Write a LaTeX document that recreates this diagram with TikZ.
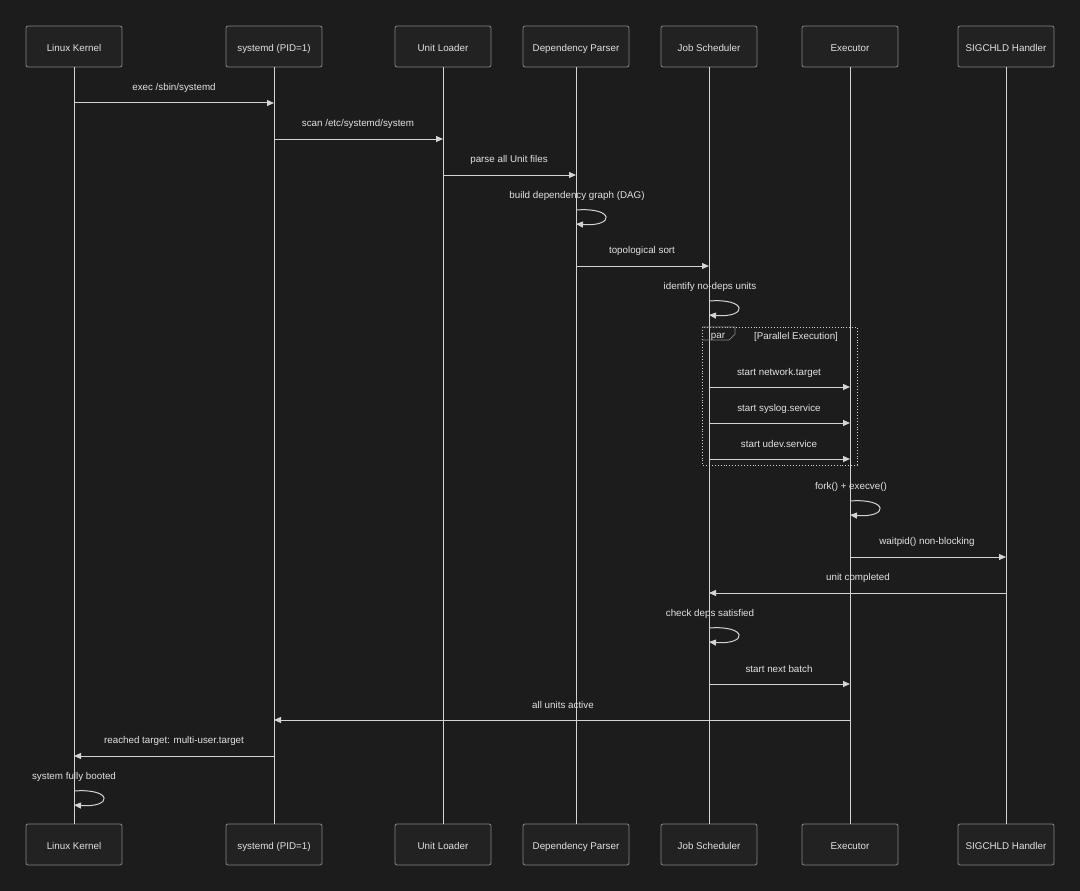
\documentclass[tikz,border=0pt]{standalone}
\usepackage{fontspec}
\setmainfont{Liberation Sans}
\usepackage{xcolor}
\usepackage{tikz}
\usetikzlibrary{arrows.meta,positioning,calc}
\definecolor{bgdark}{HTML}{1C1C1C}
\definecolor{boxfill}{HTML}{222222}
\definecolor{boxline}{HTML}{858585}
\definecolor{wire}{HTML}{D4D4D4}
\definecolor{txt}{HTML}{E2E2E2}

\begin{document}
\begin{tikzpicture}[
  x=1pt, y=-1pt,
  font=\fontsize{9.8}{11}\selectfont, text=txt,
  actor/.style={rectangle, rounded corners=2pt, draw=boxline, fill=boxfill, line width=0.8pt, align=center, text height=10.5pt, text depth=0.5pt, minimum width=96pt, minimum height=41pt},
  lifeline/.style={draw=wire, line width=0.9pt},
  msg/.style={draw=wire, line width=1pt, -{Triangle[length=7pt, width=6pt]}},
  msgtext/.style={inner sep=1pt, yshift=-2pt}
]

\fill[bgdark] (0,0) rectangle (1080,891);
\useasboundingbox (0,0) rectangle (1080,891);

\node[actor] (lk) at (74,46.5) {Linux Kernel};
\node[actor] (sd) at (274,46.5) {systemd (PID=1)};
\node[actor] (ul) at (443,46.5) {Unit Loader};
\node[actor, minimum width=106pt] (dp) at (576,46.5) {Dependency Parser};
\node[actor] (js) at (709,46.5) {Job Scheduler};
\node[actor] (ex) at (850,46.5) {Executor};
\node[actor] (sh) at (1006,46.5) {SIGCHLD Handler};

\node[actor] (lkb) at (74,844.5) {Linux Kernel};
\node[actor] (sdb) at (274,844.5) {systemd (PID=1)};
\node[actor] (ulb) at (443,844.5) {Unit Loader};
\node[actor, minimum width=106pt] (dpb) at (576,844.5) {Dependency Parser};
\node[actor] (jsb) at (709,844.5) {Job Scheduler};
\node[actor] (exb) at (850,844.5) {Executor};
\node[actor] (shb) at (1006,844.5) {SIGCHLD Handler};

\draw[lifeline] (lk) -- (lkb);
\draw[lifeline] (sd) -- (sdb);
\draw[lifeline] (ul) -- (ulb);
\draw[lifeline] (dp) -- (dpb);
\draw[lifeline] (js) -- (jsb);
\draw[lifeline] (ex) -- (exb);
\draw[lifeline] (sh) -- (shb);

\draw[msg] (lk |- 0,103) -- (sd |- 0,103);
\node[msgtext] (m1) at (174,86) {exec /sbin/systemd};
\draw[msg] (sd |- 0,139) -- (ul |- 0,139);
\node[msgtext] (m2) at (358,122) {scan /etc/systemd/system};
\draw[msg] (ul |- 0,175) -- (dp |- 0,175);
\node[msgtext] (m3) at (509,158) {parse all Unit files};
\node[msgtext] (m4) at (577,194) {build dependency graph (DAG)};
\draw[msg] (dp |- 0,210) .. controls +(39,-3) and +(39,3) .. (dp |- 0,224);
\draw[msg] (dp |- 0,266) -- (js |- 0,266);
\node[msgtext] (m5) at (642,249) {topological sort};
\node[msgtext] (m6) at (710,285) {identify no-deps units};
\draw[msg] (js |- 0,301) .. controls +(39,-3) and +(39,3) .. (js |- 0,315);

\draw[wire, line width=0.9pt, dotted] (702,327) rectangle (857,465);
\draw[boxline, line width=0.7pt] (702,327) -- (735,327) -- (735,334) -- (729,340) -- (702,340);
\node[msgtext] (par) at (718,335) {par};
\node[msgtext] (pe) at (796,335) {[Parallel Execution]};

\draw[msg] (js |- 0,387) -- (ex |- 0,387);
\node[msgtext] (m7) at (779,371) {start network.target};
\draw[msg] (js |- 0,423) -- (ex |- 0,423);
\node[msgtext] (m8) at (779,407) {start syslog.service};
\draw[msg] (js |- 0,459) -- (ex |- 0,459);
\node[msgtext] (m9) at (779,442) {start udev.service};

\node[msgtext] (m10) at (851,485) {fork() + execve()};
\draw[msg] (ex |- 0,501) .. controls +(39,-3) and +(39,3) .. (ex |- 0,515);
\draw[msg] (ex |- 0,557) -- (sh |- 0,557);
\node[msgtext] (m11) at (927,540) {waitpid() non-blocking};
\draw[msg] (sh |- 0,593) -- (js |- 0,593);
\node[msgtext] (m12) at (858,576) {unit completed};
\node[msgtext] (m13) at (710,612) {check deps satisfied};
\draw[msg] (js |- 0,628) .. controls +(39,-3) and +(39,3) .. (js |- 0,642);
\draw[msg] (js |- 0,684) -- (ex |- 0,684);
\node[msgtext] (m14) at (779,667) {start next batch};
\draw[msg] (ex |- 0,720) -- (sd |- 0,720);
\node[msgtext] (m15) at (563,703) {all units active};
\draw[msg] (sd |- 0,756) -- (lk |- 0,756);
\node[msgtext] (m16) at (174,739) {reached target: multi-user.target};
\node[msgtext] (m17) at (74,775) {system fully booted};
\draw[msg] (lk |- 0,791) .. controls +(39,-3) and +(39,3) .. (lk |- 0,805);

\end{tikzpicture}
\end{document}
